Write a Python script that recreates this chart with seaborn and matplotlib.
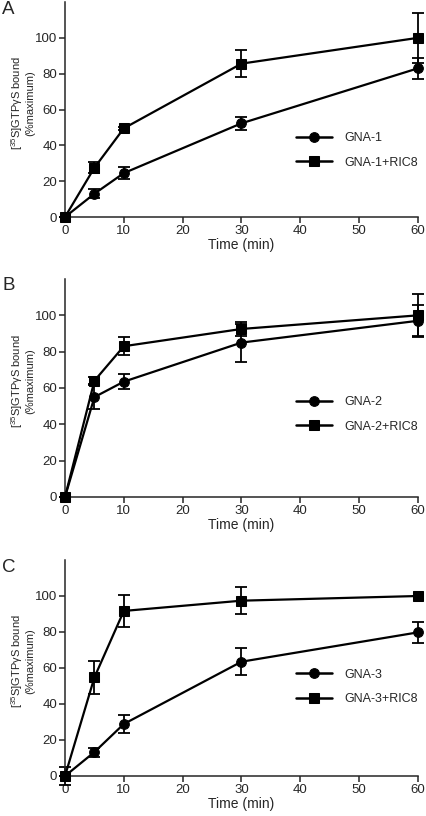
import matplotlib
matplotlib.use("Agg")
import matplotlib.pyplot as plt
import seaborn as sns
import pandas as pd

# time points (min)
time = [0, 5, 10, 30, 60]

# panel A
gna1 = [0, 13, 24.5, 52.3, 83]
gna1_err = [0, 2.5, 3.4, 3.5, 5.8]
gna1_ric8 = [0, 27.5, 49.5, 85.6, 100]
gna1_ric8_err = [0, 3, 1, 7.6, 14]

# panel B
gna2 = [0, 55, 63.5, 85, 97]
gna2_err = [0, 6.5, 4, 10.5, 8.5]
gna2_ric8 = [0, 64, 83, 92.5, 100]
gna2_ric8_err = [0, 2, 4.8, 3.7, 12]

# panel C
gna3 = [0, 13.3, 28.9, 63.5, 79.8]
gna3_err = [0, 2.5, 5.2, 7.5, 6]
gna3_ric8 = [0, 54.8, 91.7, 97.4, 100]
gna3_ric8_err = [5, 9.2, 9, 7.5, 0]

panels = [
    ("A", "GNA-1", gna1, gna1_err, gna1_ric8, gna1_ric8_err),
    ("B", "GNA-2", gna2, gna2_err, gna2_ric8, gna2_ric8_err),
    ("C", "GNA-3", gna3, gna3_err, gna3_ric8, gna3_ric8_err),
]

sns.set_style("ticks")
plt.rcParams['font.family'] = ['Liberation Sans', 'DejaVu Sans']
plt.rcParams['mathtext.fontset'] = 'custom'
plt.rcParams['mathtext.rm'] = 'Liberation Sans'
plt.rcParams['mathtext.it'] = 'Liberation Sans:italic'

fig = plt.figure(figsize=(4.27, 8.16), dpi=100)
W, H = 427, 816
# (bottom, top) in pixels for each panel axes
boxes = [(217, 2), (497, 279), (776, 560)]
legend_y = [0.31, 0.378, 0.413]
letter_y = [10, 286, 567]

for i, (letter, name, base, base_err, ric, ric_err) in enumerate(panels):
    bot, top = boxes[i]
    ax = fig.add_axes([65 / W, 1 - bot / H, (418 - 65) / W, (bot - top) / H])

    df = pd.DataFrame({
        "time": time * 2,
        "value": base + ric,
        "group": [name] * 5 + [name + "+RIC8"] * 5,
    })
    sns.lineplot(data=df, x="time", y="value", style="group",
                 markers={name: "o", name + "+RIC8": "s"}, dashes=False,
                 color="black", linewidth=1.6, markersize=7,
                 markeredgecolor="black", ax=ax, clip_on=False, zorder=3)
    ax.errorbar(time, base, yerr=base_err, fmt="none", ecolor="black",
                elinewidth=1.3, capsize=4, capthick=1.3, clip_on=False)
    ax.errorbar(time, ric, yerr=ric_err, fmt="none", ecolor="black",
                elinewidth=1.3, capsize=4, capthick=1.3, clip_on=False)

    ax.set_xlim(0, 60)
    ax.set_ylim(0, 120)
    ax.set_xticks(range(0, 61, 10))
    ax.set_yticks(range(0, 101, 20))
    ax.tick_params(labelsize=9.5, length=4, width=1.1, pad=1.5)
    for s in ["left", "bottom"]:
        ax.spines[s].set_linewidth(1.1)
    sns.despine(ax=ax)
    ax.set_xlabel("Time (min)", fontsize=10, labelpad=1)
    ax.set_ylabel("[$^{35}$S]GTPγS bound\n(%maximum)",
                  fontsize=8, linespacing=1.05)
    ax.yaxis.set_label_coords(-0.085, 0.53)

    leg = ax.legend(loc="center left", bbox_to_anchor=(0.655, legend_y[i]),
                    frameon=False, fontsize=9, handlelength=2.9,
                    handletextpad=0.95, labelspacing=1.0, borderpad=0,
                    borderaxespad=0)
    for line in leg.get_lines():
        line.set_linewidth(1.8)

    fig.text(2 / W, 1 - letter_y[i] / H, letter, fontsize=13.5,
             va="center", ha="left")

fig.savefig("out.png", dpi=100)
